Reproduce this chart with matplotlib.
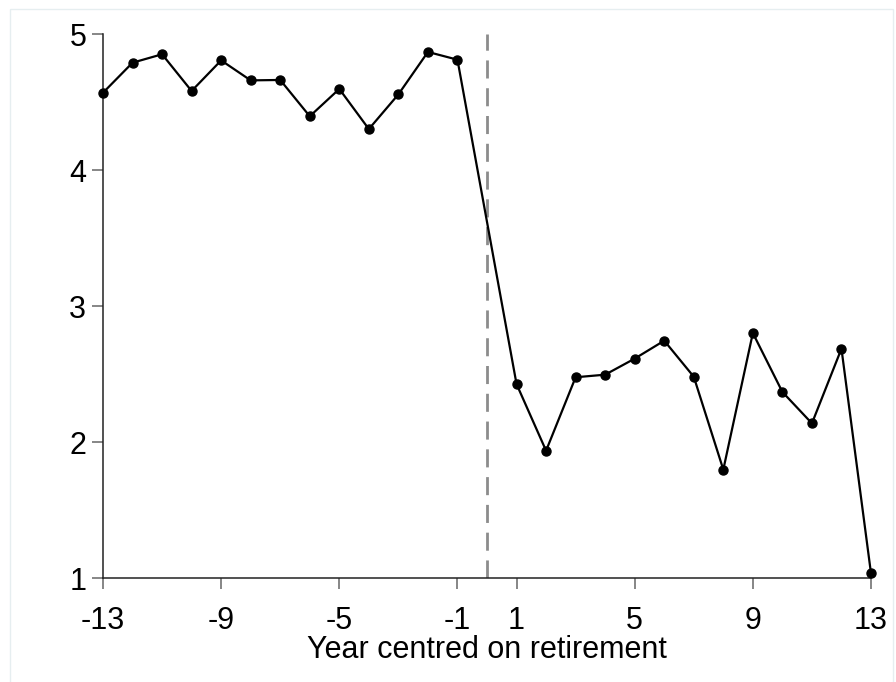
import matplotlib
matplotlib.use("Agg")
import matplotlib.pyplot as plt
from matplotlib.patches import Rectangle

plt.rcParams['font.family'] = ['Liberation Sans', 'DejaVu Sans']

years = [-13, -12, -11, -10, -9, -8, -7, -6, -5, -4, -3, -2, -1,
         1, 2, 3, 4, 5, 6, 7, 8, 9, 10, 11, 12, 13]
values = [4.568, 4.789, 4.851, 4.581, 4.806, 4.659, 4.662, 4.395, 4.596,
          4.301, 4.556, 4.868, 4.811,
          2.426, 1.936, 2.476, 2.495, 2.613, 2.745, 2.480, 1.797, 2.801,
          2.368, 2.137, 2.686, 1.034]
xticks = [-13, -9, -5, -1, 1, 5, 9, 13]
yticks = [1, 2, 3, 4, 5]
retirement_line = 0
xlabel = "Year centred on retirement"

fig = plt.figure(figsize=(8.96, 6.82), dpi=100)
ax = fig.add_axes([103 / 896, 1 - 578 / 682, (871 - 103) / 896, (578 - 34) / 682])

# light outer frame around the whole graph region
fig.patches.append(Rectangle((10 / 896, -0.01), (893 - 10) / 896, 1 - 9 / 682 + 0.01,
                             transform=fig.transFigure, fill=False,
                             edgecolor='#e6eef0', linewidth=1))

ax.axvline(retirement_line, color='#8c8c8c', linewidth=2,
           linestyle=(0, (6.5, 3.5)), zorder=1)
ax.plot(years, values, color='black', linewidth=1.6, marker='o',
        markersize=6.5, clip_on=False, zorder=3)

ax.set_xlim(-13, 13)
ax.set_ylim(1, 5)
ax.set_xticks(xticks)
ax.set_xticklabels([str(t) for t in xticks])
ax.set_yticks(yticks)
ax.set_yticklabels([str(t) for t in yticks])

for side in ('top', 'right'):
    ax.spines[side].set_visible(False)
for side in ('left', 'bottom'):
    ax.spines[side].set_color('#222222')
    ax.spines[side].set_linewidth(1.1)

ax.tick_params(axis='both', direction='out', length=8, width=1.1,
               color='#666666', labelsize=22, labelcolor='black')
ax.tick_params(axis='x', pad=12)
ax.tick_params(axis='y', pad=4)
ax.set_xlabel(xlabel, fontsize=22, labelpad=-0.5)

fig.savefig("out.png", dpi=100, facecolor='white')
